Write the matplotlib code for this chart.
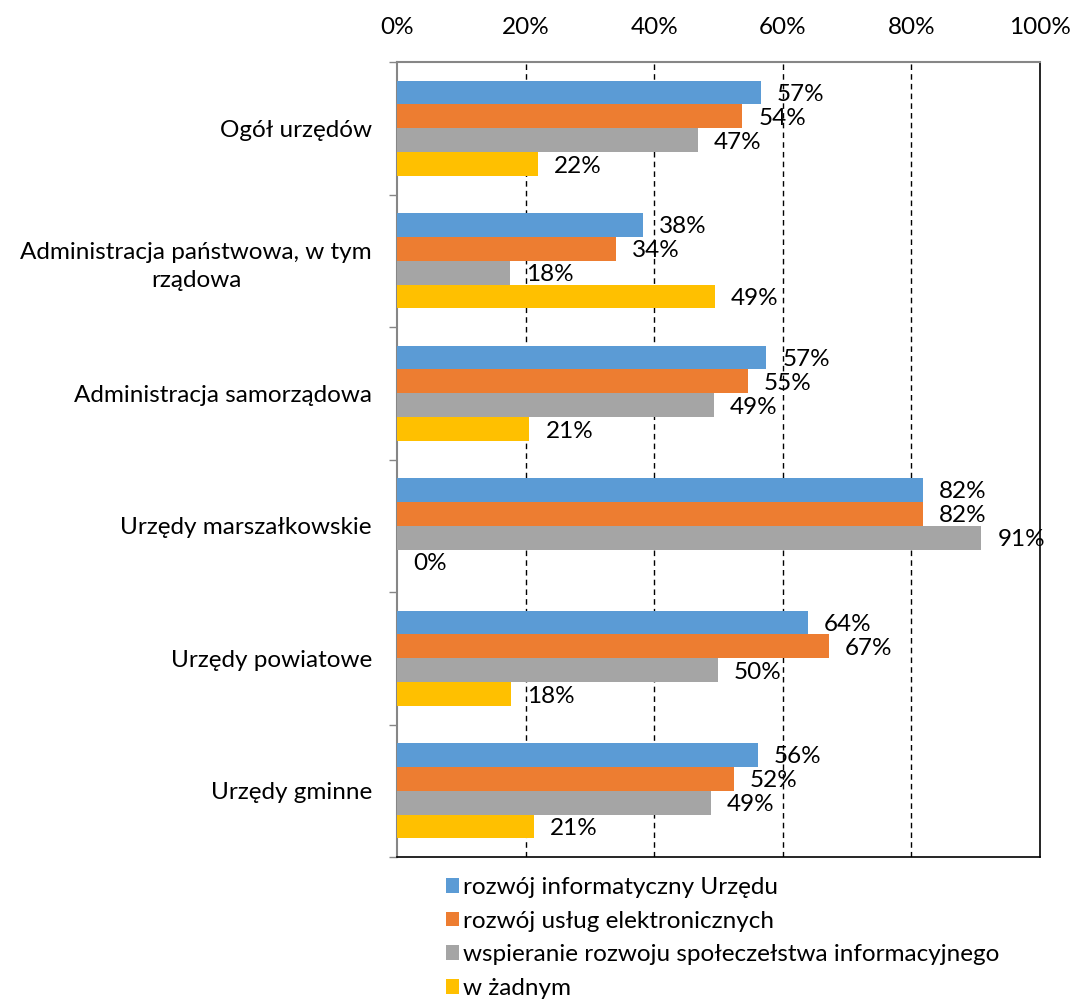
import matplotlib
matplotlib.use("Agg")
import matplotlib.pyplot as plt
import numpy as np
from matplotlib.patches import Patch

plt.rcParams['font.family'] = ['Lato', 'DejaVu Sans']

categories = ["Ogół urzędów", "Administracja państwowa, w tym\nrządowa",
              "Administracja samorządowa", "Urzędy marszałkowskie",
              "Urzędy powiatowe", "Urzędy gminne"]
series_names = ["rozwój informatyczny Urzędu", "rozwój usług elektronicznych",
                "wspieranie rozwoju społeczełstwa informacyjnego", "w żadnym"]
blue = [56.6, 38.3, 57.4, 81.8, 63.9, 56.1]
orange = [53.7, 34.1, 54.6, 81.8, 67.2, 52.4]
gray = [46.8, 17.6, 49.3, 90.9, 49.9, 48.8]
yellow = [21.9, 49.4, 20.6, 0.0, 17.7, 21.3]
colors = ["#5B9BD5", "#ED7D31", "#A5A5A5", "#FFC000"]
xticks = [0, 20, 40, 60, 80, 100]

FS = 17.5
fig = plt.figure(figsize=(10.72, 10.0), dpi=100)
ax = fig.add_axes([397/1072, 1-857/1000, (1040-397)/1072, (857-62)/1000])

n = len(categories)
bh = 0.18
centers = np.arange(n)
for i, (vals, c) in enumerate(zip([blue, orange, gray, yellow], colors)):
    y = centers + (i - 1.5) * bh
    ax.barh(y, vals, height=bh, color=c, label=series_names[i], zorder=3)
    for yy, v in zip(y, vals):
        ax.text(v + 2.5, yy + 0.015, f"{round(v):.0f}%", va='center', ha='left',
                fontsize=FS, color='#000000', zorder=5)

ax.set_xlim(0, 100)
ax.set_ylim(n - 0.5, -0.5)
ax.xaxis.tick_top()
ax.set_xticks(xticks)
ax.set_xticklabels([f"{t}%" for t in xticks], fontsize=FS)
ax.tick_params(axis='x', length=0, pad=17)
for t in xticks[1:-1]:
    ax.axvline(t, color='black', linestyle=(0, (4, 3)), linewidth=1, zorder=1)

ax.set_yticks(centers)
ax.set_yticklabels(categories, fontsize=FS, ha='right', multialignment='center',
                   linespacing=1.45)
ax.tick_params(axis='y', length=0, pad=18)
ax.set_yticks(np.arange(n + 1) - 0.5, minor=True)
ax.tick_params(axis='y', which='minor', length=6, color='#868686', width=1)

for s in ['top', 'left']:
    ax.spines[s].set_color('#868686')
    ax.spines[s].set_linewidth(1.5)
for s in ['right', 'bottom']:
    ax.spines[s].set_color('black')
    ax.spines[s].set_linewidth(1.2)

handles = [Patch(facecolor=c, edgecolor='none') for c in colors]
fig.legend(handles, series_names, loc='upper left', bbox_to_anchor=(446/1072, 1-877/1000),
           frameon=False, fontsize=FS, handlelength=0.55, handleheight=0.55,
           handletextpad=0.15, labelspacing=0.52, borderaxespad=0, borderpad=0)

fig.savefig("out.png", dpi=100)
